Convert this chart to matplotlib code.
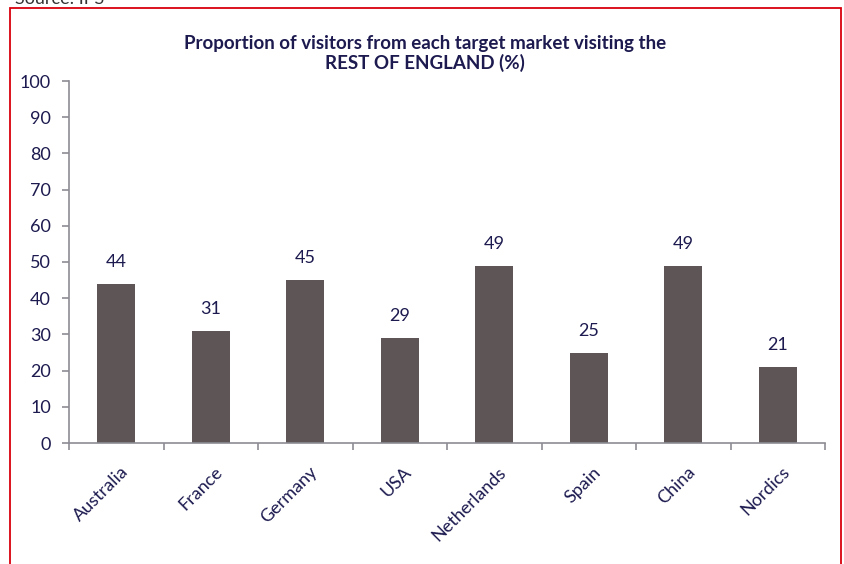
import numpy as np
import matplotlib.pyplot as plt
from matplotlib.patches import Rectangle

plt.rcParams['font.family'] = ['Lato', 'DejaVu Sans']

markets = ['Australia', 'France', 'Germany', 'USA', 'Netherlands', 'Spain', 'China', 'Nordics']
share = [44, 31, 45, 29, 49, 25, 49, 21]

TEXT = '#1c1a4f'
BAR = '#5e5556'
AXIS = '#8c8c94'

fig = plt.figure(figsize=(8.44, 5.64), dpi=100)
ax = fig.add_axes([69 / 844, 1 - 443 / 564, (825 - 69) / 844, (443 - 81) / 564])

x = np.arange(len(markets))
ax.bar(x, share, width=0.4, color=BAR, zorder=2)
for xi, v in zip(x, share):
    ax.text(xi, v + 6, str(v), ha='center', va='center', fontsize=13, color=TEXT)

ax.set_xlim(-0.5, len(markets) - 0.5)
ax.set_ylim(0, 100)
ax.set_yticks(np.arange(0, 101, 10))
ax.set_xticks(np.arange(-0.5, len(markets), 1))
ax.set_xticklabels([])
ax.set_xticks(x + 0.04, minor=True)
ax.set_xticklabels(markets, minor=True, rotation=45, ha='right', rotation_mode='anchor',
                   fontsize=13, color=TEXT)
ax.tick_params(axis='x', which='minor', length=0, pad=15)
ax.tick_params(axis='x', which='major', length=5, color=AXIS, width=1.2)
ax.tick_params(axis='y', length=5, color=AXIS, width=1.2, labelsize=13, labelcolor=TEXT, pad=8)

for s in ['top', 'right']:
    ax.spines[s].set_visible(False)
for s in ['left', 'bottom']:
    ax.spines[s].set_color(AXIS)
    ax.spines[s].set_linewidth(1.2)

fig.text(425 / 844, 1 - 44 / 564, 'Proportion of visitors from each target market visiting the',
         ha='center', va='center', fontsize=13.5, fontweight='bold', color=TEXT)
fig.text(425 / 844, 1 - 63 / 564, 'REST OF ENGLAND (%)',
         ha='center', va='center', fontsize=13.5, fontweight='bold', color=TEXT)

fig.text(15 / 844, 1 + 1 / 564, 'Source: IPS', ha='left', va='center', fontsize=13, color='#333333')

fig.patches.append(Rectangle((10 / 844, -0.1), (841 - 10) / 844, 1.1 - 8 / 564,
                             transform=fig.transFigure, fill=False, edgecolor='#d9000d', linewidth=1.3))

fig.savefig('out.png', dpi=100)
